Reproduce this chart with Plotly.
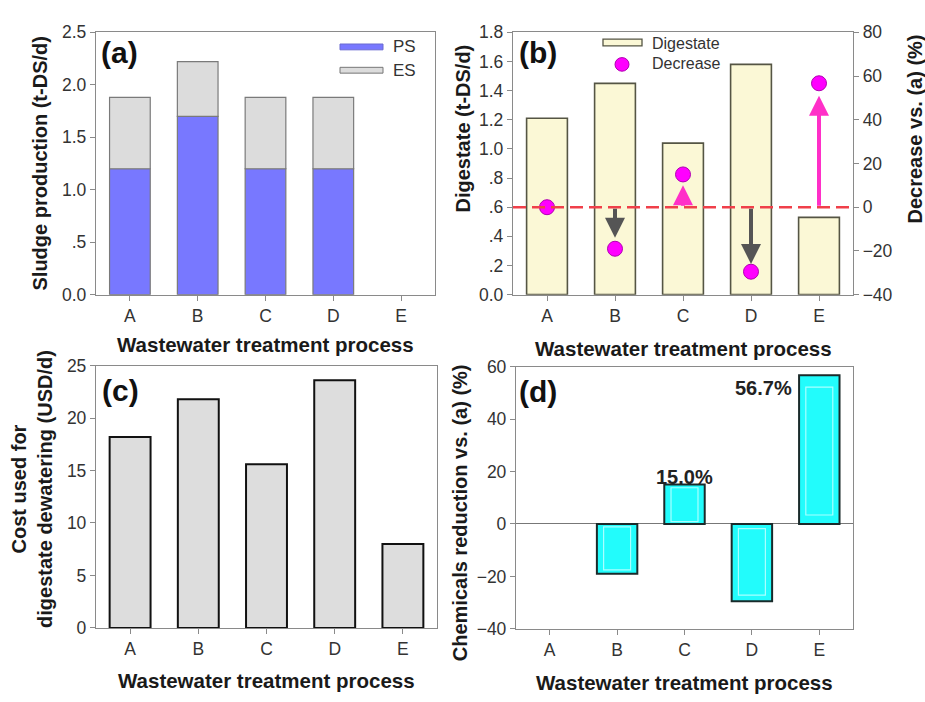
import plotly.graph_objects as go

# ---------------- data ----------------
processes = ["A", "B", "C", "D", "E"]
ps_sludge = [1.20, 1.70, 1.20, 1.20, 0.0]          # t-DS/d
es_sludge = [0.68, 0.52, 0.68, 0.68, 0.0]          # t-DS/d (stacked on PS)
digestate = [1.21, 1.45, 1.04, 1.58, 0.53]         # t-DS/d
decrease = [0.0, -19.0, 15.0, -29.5, 56.7]         # % vs (a)
arrow_tips = [None, -14.0, 10.0, -26.0, 51.0]      # arrow ends (%) in panel b
dewater_cost = [18.2, 21.8, 15.6, 23.6, 8.0]       # USD/d
chem_reduction = [0.0, -19.0, 15.0, -29.5, 56.7]   # %
labelled = ["C", "E"]

a_ticks = [0, 0.5, 1.0, 1.5, 2.0, 2.5]
a_ticktext = ["0.0", ".5", "1.0", "1.5", "2.0", "2.5"]
b_ticks = [0, 0.2, 0.4, 0.6, 0.8, 1.0, 1.2, 1.4, 1.6, 1.8]
b_ticktext = ["0.0", ".2", ".4", ".6", ".8", "1.0", "1.2", "1.4", "1.6", "1.8"]
b2_ticks = [-40, -20, 0, 20, 40, 60, 80]
c_ticks = [0, 5, 10, 15, 20, 25]
d_ticks = [-40, -20, 0, 20, 40, 60]

W, H = 925, 702
FONT = "Liberation Sans, Arial, sans-serif"
TICKFONT = dict(family=FONT, size=17.5, color="#333333")
AXC = "#8a8a8a"


def px(x):
    return x / W


def py(y):
    return 1 - y / H


def nz(vals):
    return [v if v != 0 else None for v in vals]


fig = go.Figure()

# ---- (a) stacked bars ----
fig.add_trace(go.Bar(x=processes, y=nz(ps_sludge), name="PS", width=0.6,
                     marker=dict(color="#7878FF", line=dict(color="#7a7a7a", width=1.2)),
                     xaxis="x", yaxis="y", showlegend=False))
fig.add_trace(go.Bar(x=processes, y=nz(es_sludge), name="ES", width=0.6,
                     marker=dict(color="#DCDCDC", line=dict(color="#7a7a7a", width=1.2)),
                     xaxis="x", yaxis="y", showlegend=False))

# ---- (b) digestate bars + decrease markers ----
fig.add_trace(go.Bar(x=processes, y=digestate, name="Digestate", width=0.6,
                     marker=dict(color="#FBF8D6", line=dict(color="#555544", width=1.6)),
                     xaxis="x2", yaxis="y2", showlegend=False))
fig.add_trace(go.Scatter(x=processes, y=decrease, mode="markers", name="Decrease",
                         marker=dict(color="#FF00FF", size=15, line=dict(color="#B000B0", width=1)),
                         xaxis="x2", yaxis="y3", showlegend=False))

# ---- (c) cost bars ----
fig.add_trace(go.Bar(x=processes, y=dewater_cost, width=0.6,
                     marker=dict(color="#DDDDDD", line=dict(color="#111111", width=2)),
                     xaxis="x3", yaxis="y4", showlegend=False))

# ---- (d) chemicals reduction bars ----
fig.add_trace(go.Bar(x=processes, y=nz(chem_reduction), width=0.6,
                     marker=dict(color="#22FCFC", line=dict(color="#1a2a2a", width=2)),
                     xaxis="x4", yaxis="y5", showlegend=False))
fig.add_trace(go.Bar(x=processes, y=nz([v * 0.86 for v in chem_reduction]),
                     base=[v * 0.06 for v in chem_reduction], width=0.4,
                     marker=dict(color="rgba(0,0,0,0)", line=dict(color="#A8FFFF", width=1.2)),
                     xaxis="x4", yaxis="y5", showlegend=False, hoverinfo="skip"))

# ---- axes ----
doms = {
    "a": ([px(96), px(435)], [py(293), py(23)]),
    "b": ([px(513), px(853)], [py(293), py(23)]),
    "c": ([px(96), px(437)], [py(636), py(366)]),
    "d": ([px(516), px(853)], [py(637), py(367)]),
}


def xax(dom, anchor):
    return dict(domain=dom, anchor=anchor, type="category", categoryorder="array",
                categoryarray=processes, range=[-0.5, 4.5],
                showline=True, linecolor=AXC, linewidth=1.3, mirror=True,
                ticks="outside", ticklen=5, tickcolor=AXC, tickfont=TICKFONT,
                ticklabelstandoff=0, showgrid=False, zeroline=False, fixedrange=True)


def yax(dom, anchor, rng, tv, tt=None, mirror=True):
    d = dict(domain=dom, anchor=anchor, range=rng, tickvals=tv,
             showline=True, linecolor=AXC, linewidth=1.3, mirror=mirror,
             ticks="outside", ticklen=5, tickcolor=AXC, tickfont=TICKFONT,
             showgrid=False, zeroline=False, fixedrange=True)
    if tt is not None:
        d["ticktext"] = tt
    return d


fig.update_layout(
    xaxis=xax(doms["a"][0], "y"),
    xaxis2=xax(doms["b"][0], "y2"),
    xaxis3=xax(doms["c"][0], "y4"),
    xaxis4=xax(doms["d"][0], "y5"),
    yaxis=yax(doms["a"][1], "x", [0, 2.5], a_ticks, a_ticktext),
    yaxis2=yax(doms["b"][1], "x2", [0, 1.8], b_ticks, b_ticktext, mirror=False),
    yaxis3=dict(overlaying="y2", side="right", anchor="x2", range=[-40, 80], tickvals=b2_ticks,
                showline=True, linecolor=AXC, linewidth=1.3, ticks="outside", ticklen=5,
                tickcolor=AXC, tickfont=TICKFONT, showgrid=False, zeroline=False, fixedrange=True),
    yaxis4=yax(doms["c"][1], "x3", [0, 25], c_ticks),
    yaxis5=yax(doms["d"][1], "x4", [-40, 60], d_ticks),
)
fig.update_layout(yaxis5=dict(zeroline=True, zerolinecolor="#777777", zerolinewidth=1.2))

shapes = []
annots = []

# dashed zero line in (b)
shapes.append(dict(type="line", xref="x2 domain", yref="y3", x0=0, x1=1, y0=0, y1=0,
                   line=dict(color="#F0404A", width=2.5, dash="13px,6px"), layer="above"))

# arrows in (b)
for cat, tip in zip(processes, arrow_tips):
    if tip is None:
        continue
    col = "#FF2FC8" if tip > 0 else "#555555"
    annots.append(dict(x=cat, y=tip, ax=cat, ay=0, xref="x2", yref="y3", axref="x2", ayref="y3",
                       text="", showarrow=True, arrowhead=2, arrowsize=1.0, arrowwidth=4,
                       arrowcolor=col, standoff=0, startstandoff=0))

# value labels in (d)
LABFONT = dict(family=FONT, size=20, color="#222222")
for cat, v in zip(processes, chem_reduction):
    if cat not in labelled:
        continue
    if cat == "E":
        annots.append(dict(x=cat, y=v, xref="x4", yref="y5", text=f"<b>{v:.1f}%</b>",
                           showarrow=False, xanchor="right", yanchor="top", xshift=-25, yshift=0,
                           font=LABFONT))
    else:
        annots.append(dict(x=cat, y=v, xref="x4", yref="y5", text=f"<b>{v:.1f}%</b>",
                           showarrow=False, xanchor="center", yanchor="bottom", yshift=-5,
                           font=LABFONT))

# legend (a)
LEGFONT = dict(family=FONT, size=17, color="#333")
shapes.append(dict(type="rect", xref="paper", yref="paper", x0=px(340), x1=px(383),
                   y0=py(41), y1=py(35), fillcolor="#7878FF", line=dict(color="#6a6ad0", width=1)))
shapes.append(dict(type="rect", xref="paper", yref="paper", x0=px(340), x1=px(383),
                   y0=py(65), y1=py(59), fillcolor="#DCDCDC", line=dict(color="#777777", width=1)))
annots.append(dict(x=px(391), y=py(38), xref="paper", yref="paper", text="PS", showarrow=False,
                   xanchor="left", yanchor="middle", font=LEGFONT))
annots.append(dict(x=px(391), y=py(62), xref="paper", yref="paper", text="ES", showarrow=False,
                   xanchor="left", yanchor="middle", font=LEGFONT))

# legend (b)
shapes.append(dict(type="rect", xref="paper", yref="paper", x0=px(603), x1=px(642),
                   y0=py(37), y1=py(30), fillcolor="#FBF8D6", line=dict(color="#555544", width=1.3)))
shapes.append(dict(type="circle", xref="paper", yref="paper", x0=px(615), x1=px(629),
                   y0=py(63), y1=py(49), fillcolor="#FF00FF", line=dict(color="#B000B0", width=1)))
annots.append(dict(x=px(650), y=py(34), xref="paper", yref="paper", text="Digestate", showarrow=False,
                   xanchor="left", yanchor="middle", font=dict(family=FONT, size=16, color="#333")))
annots.append(dict(x=px(650), y=py(55), xref="paper", yref="paper", text="Decrease", showarrow=False,
                   xanchor="left", yanchor="middle", font=dict(family=FONT, size=16, color="#333")))

# panel labels
for lab, x, y in [("(a)", 99, 44), ("(b)", 517, 44), ("(c)", 100, 392), ("(d)", 517, 393)]:
    annots.append(dict(x=px(x), y=py(y), xref="paper", yref="paper", text=f"<b>{lab}</b>",
                       showarrow=False, xanchor="left", yanchor="middle",
                       font=dict(family=FONT, size=30, color="#111")))

TITLEFONT = dict(family=FONT, size=20.5, color="#1a1a1a")
# x titles
for x, y in [(265, 344), (683, 348), (266, 690), (684, 692)]:
    annots.append(dict(x=px(x), y=py(y), xref="paper", yref="paper",
                       text="<b>Wastewater treatment process</b>", showarrow=False,
                       xanchor="center", yanchor="middle", font=TITLEFONT))
# y titles
YTFONT = dict(family=FONT, size=20, color="#1a1a1a")
for txt, x, y in [("Sludge production (t-DS/d)", 40, 158),
                  ("Digestate (t-DS/d)", 463, 122),
                  ("Decrease vs. (a) (%)", 915, 123),
                  ("Cost used for<br>digestate dewatering (USD/d)", 32, 493),
                  ("Chemicals reduction vs. (a) (%)", 460, 518)]:
    annots.append(dict(x=px(x), y=py(y), xref="paper", yref="paper", text=f"<b>{txt}</b>",
                       showarrow=False, textangle=-90, xanchor="center", yanchor="middle",
                       font=YTFONT))

fig.update_layout(
    width=W, height=H, margin=dict(l=0, r=0, t=0, b=0),
    paper_bgcolor="white", plot_bgcolor="white",
    barmode="relative", bargap=0.4,
    shapes=shapes, annotations=annots, showlegend=False,
    font=dict(family=FONT),
)

fig.write_html("out.html")
